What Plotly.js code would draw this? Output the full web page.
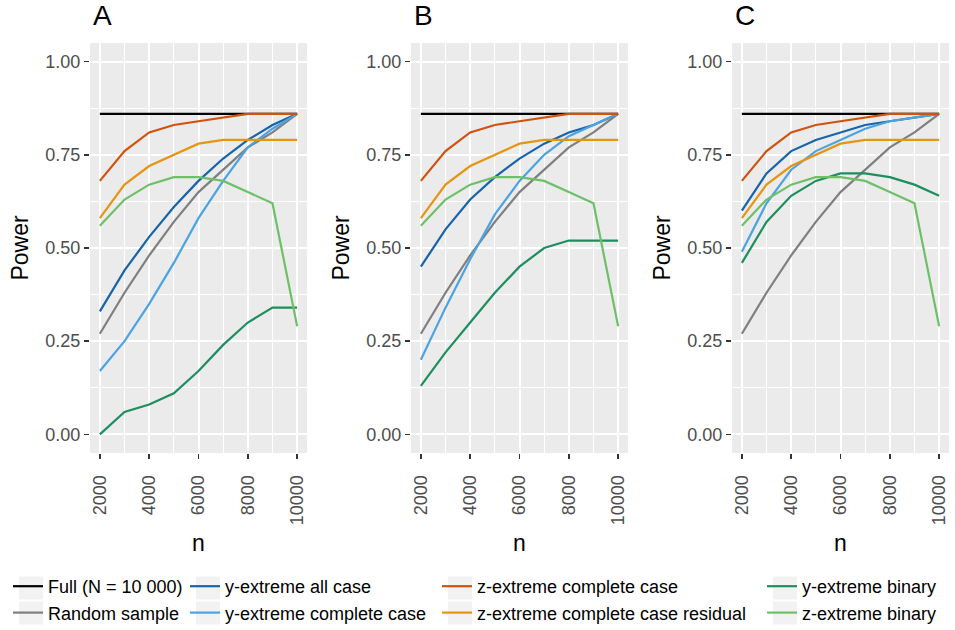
<!DOCTYPE html>
<html>
<head>
<meta charset="utf-8">
<script src="https://cdn.plot.ly/plotly-3.0.1.min.js"></script>
<style>html,body{margin:0;padding:0;background:#fff;}#chart{width:955px;height:630px;}</style>
</head>
<body>
<div id="chart"></div>
<script>
// ---- data ----
const n = [2000, 3000, 4000, 5000, 6000, 7000, 8000, 9000, 10000];
const panels = ['A', 'B', 'C'];
const seriesNames = ['Full (N = 10 000)', 'Random sample', 'y-extreme all case', 'y-extreme complete case',
  'z-extreme complete case', 'z-extreme complete case residual', 'y-extreme binary', 'z-extreme binary'];

// shared across panels
const full = [0.86, 0.86, 0.86, 0.86, 0.86, 0.86, 0.86, 0.86, 0.86];
const randomSample = [0.27, 0.38, 0.48, 0.57, 0.65, 0.71, 0.77, 0.81, 0.86];
const zExtremeComplete = [0.68, 0.76, 0.81, 0.83, 0.84, 0.85, 0.86, 0.86, 0.86];
const zExtremeResidual = [0.58, 0.67, 0.72, 0.75, 0.78, 0.79, 0.79, 0.79, 0.79];
const zExtremeBinary = [0.56, 0.63, 0.67, 0.69, 0.69, 0.68, 0.65, 0.62, 0.29];

// panel A
const yAllA = [0.33, 0.44, 0.53, 0.61, 0.68, 0.74, 0.79, 0.83, 0.86];
const yCompleteA = [0.17, 0.25, 0.35, 0.46, 0.58, 0.68, 0.77, 0.82, 0.86];
const yBinaryA = [0.00, 0.06, 0.08, 0.11, 0.17, 0.24, 0.30, 0.34, 0.34];
// panel B
const yAllB = [0.45, 0.55, 0.63, 0.69, 0.74, 0.78, 0.81, 0.83, 0.86];
const yCompleteB = [0.20, 0.34, 0.47, 0.59, 0.68, 0.75, 0.80, 0.83, 0.86];
const yBinaryB = [0.13, 0.22, 0.30, 0.38, 0.45, 0.50, 0.52, 0.52, 0.52];
// panel C
const yAllC = [0.60, 0.70, 0.76, 0.79, 0.81, 0.83, 0.84, 0.85, 0.86];
const yCompleteC = [0.49, 0.62, 0.71, 0.76, 0.79, 0.82, 0.84, 0.85, 0.86];
const yBinaryC = [0.46, 0.57, 0.64, 0.68, 0.70, 0.70, 0.69, 0.67, 0.64];

const yTickVals = [0, 0.25, 0.5, 0.75, 1.0];
const xTickVals = [2000, 4000, 6000, 8000, 10000];

// ---- styles ----
const colors = ['#000000', '#7F7F7F', '#1764AB', '#4BA3E3', '#D0520C', '#E69512', '#1D8F5F', '#6DC067'];
const legendIds = ['legend', 'legend', 'legend2', 'legend2', 'legend3', 'legend3', 'legend4', 'legend4'];
const FONT = '"Liberation Sans", Arial, sans-serif';

const panelData = [
  [full, randomSample, yAllA, yCompleteA, zExtremeComplete, zExtremeResidual, yBinaryA, zExtremeBinary],
  [full, randomSample, yAllB, yCompleteB, zExtremeComplete, zExtremeResidual, yBinaryB, zExtremeBinary],
  [full, randomSample, yAllC, yCompleteC, zExtremeComplete, zExtremeResidual, yBinaryC, zExtremeBinary]
];

const traces = [];
panelData.forEach((series, p) => {
  const sfx = p === 0 ? '' : String(p + 1);
  series.forEach((vals, i) => {
    traces.push({
      type: 'scatter', mode: 'lines',
      x: n, y: vals,
      name: seriesNames[i],
      legend: legendIds[i],
      showlegend: p === 0,
      line: {color: colors[i], width: 2.2},
      xaxis: 'x' + sfx, yaxis: 'y' + sfx,
      hoverinfo: 'x+y+name'
    });
  });
});

const W = 955, H = 630;
const panelLeft = [90, 411, 732];
const panelW = 217;
const panelTop = 43, panelBottom = 453;

const layout = {
  width: W, height: H,
  margin: {l: 0, r: 0, t: 0, b: 0, autoexpand: false},
  paper_bgcolor: '#FFFFFF',
  plot_bgcolor: '#EBEBEB',
  font: {family: FONT, size: 18, color: '#000'},
  showlegend: true,
  annotations: [],
  shapes: []
};

panelLeft.forEach((L, p) => {
  const sfx = p === 0 ? '' : String(p + 1);
  layout['xaxis' + sfx] = {
    domain: [L / W, (L + panelW) / W],
    anchor: 'y' + sfx,
    range: [1600, 10400],
    tickvals: xTickVals,
    tickformat: 'd',
    tickangle: -90,
    ticklabelstandoff: 9,
    ticks: 'outside', ticklen: 5, tickwidth: 1.5, tickcolor: '#333333',
    tickfont: {family: FONT, size: 18, color: '#4D4D4D'},
    showgrid: true, gridcolor: '#FFFFFF', gridwidth: 2,
    minor: {dtick: 1000, tick0: 1000, showgrid: true, gridcolor: '#FFFFFF', gridwidth: 1, ticks: ''},
    zeroline: false, showline: false,
    title: {text: 'n', font: {family: FONT, size: 23, color: '#000'}, standoff: 10},
    automargin: false
  };
  layout['yaxis' + sfx] = {
    domain: [(H - panelBottom) / H, (H - panelTop) / H],
    anchor: 'x' + sfx,
    range: [-0.05, 1.05],
    tickvals: yTickVals,
    tickformat: '.2f',
    ticks: 'outside', ticklen: 5, tickwidth: 1.5, tickcolor: '#333333',
    tickfont: {family: FONT, size: 18, color: '#4D4D4D'},
    showgrid: true, gridcolor: '#FFFFFF', gridwidth: 2,
    minor: {dtick: 0.125, tick0: 0.125, showgrid: true, gridcolor: '#FFFFFF', gridwidth: 1, ticks: ''},
    zeroline: false, showline: false,
    title: {text: 'Power', font: {family: FONT, size: 23, color: '#000'}, standoff: 10},
    automargin: false
  };
  layout.annotations.push({
    text: panels[p], xref: 'paper', yref: 'paper',
    x: (L + 1) / W, y: (H - 33) / H, xanchor: 'left', yanchor: 'bottom',
    showarrow: false, font: {family: FONT, size: 28, color: '#000'}
  });
});

// legends: four vertical columns
const legendTextX = [48, 225, 477, 802];
const rowCenters = [588, 613];
['legend', 'legend2', 'legend3', 'legend4'].forEach((id, k) => {
  layout[id] = {
    x: (legendTextX[k] - 40) / W, y: (H - 568) / H, xanchor: 'left', yanchor: 'top',
    orientation: 'v', bgcolor: 'rgba(0,0,0,0)', borderwidth: 0,
    font: {family: FONT, size: 18, color: '#000'},
    tracegroupgap: 0, itemwidth: 30
  };
  // grey key backgrounds, as in the reference legend
  rowCenters.forEach(cy => {
    layout.shapes.push({
      type: 'rect', xref: 'paper', yref: 'paper', layer: 'below',
      x0: (legendTextX[k] - 29) / W, x1: (legendTextX[k] - 5) / W,
      y0: (H - cy - 11.5) / H, y1: (H - cy + 11.5) / H,
      fillcolor: '#F2F2F2', line: {width: 0}
    });
  });
});

Plotly.newPlot('chart', traces, layout, {displayModeBar: false, staticPlot: true});
</script>
</body>
</html>
